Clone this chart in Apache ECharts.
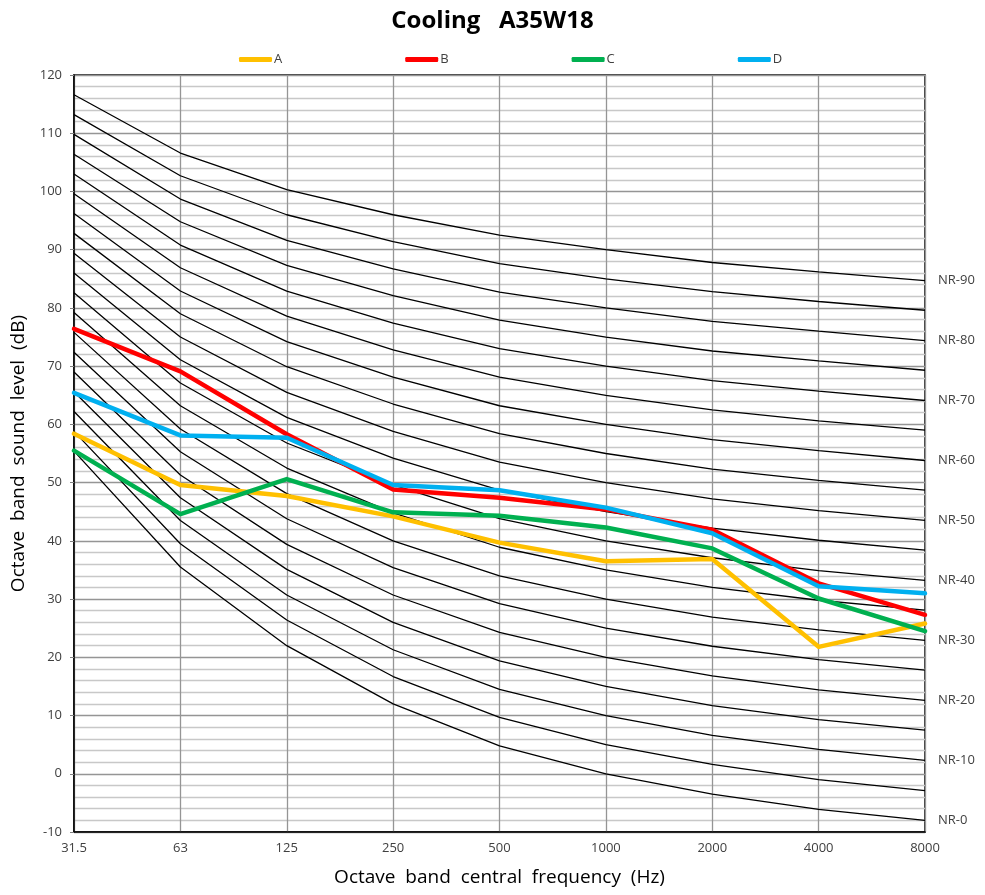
<!DOCTYPE html>
<html><head><meta charset="utf-8">
<script src="https://cdn.jsdelivr.net/npm/echarts@6/dist/echarts.min.js"></script>
<style>html,body{margin:0;padding:0;background:#fff}#c{width:985px;height:895px}</style>
</head><body><div id="c"></div>
<script>
const categories = ['31.5','63','125','250','500','1000','2000','4000','8000'];
const seriesA = [58.4, 49.6, 47.7, 44.2, 39.7, 36.5, 36.9, 21.8, 25.8];
const seriesB = [76.4, 69.1, 58.3, 48.8, 47.4, 45.4, 41.9, 32.7, 27.3];
const seriesC = [55.5, 44.6, 50.6, 44.9, 44.3, 42.3, 38.7, 30.1, 24.5];
const seriesD = [65.4, 58.1, 57.7, 49.6, 48.7, 45.7, 41.3, 32.2, 31.0];
const nrNames = ['NR-0','NR-5','NR-10','NR-15','NR-20','NR-25','NR-30','NR-35','NR-40','NR-45','NR-50','NR-55','NR-60','NR-65','NR-70','NR-75','NR-80','NR-85','NR-90'];
const nrCurves = [
  [55.4, 35.5, 22.0, 12.0, 4.8, 0, -3.5, -6.1, -8.0],
  [58.8, 39.5, 26.4, 16.7, 9.7, 5, 1.6, -1.0, -2.9],
  [62.2, 43.5, 30.7, 21.3, 14.5, 10, 6.6, 4.2, 2.3],
  [65.6, 47.4, 35.1, 26.0, 19.4, 15, 11.7, 9.3, 7.5],
  [69.0, 51.3, 39.4, 30.7, 24.3, 20, 16.8, 14.4, 12.6],
  [72.4, 55.3, 43.8, 35.4, 29.2, 25, 21.9, 19.6, 17.8],
  [75.8, 59.2, 48.1, 40.0, 34.0, 30, 26.9, 24.7, 22.9],
  [79.2, 63.2, 52.5, 44.8, 38.9, 35, 32.0, 29.8, 28.1],
  [82.6, 67.1, 56.8, 49.6, 43.8, 40, 37.1, 34.9, 33.2],
  [86.0, 71.1, 61.2, 54.2, 48.7, 45, 42.2, 40.1, 38.4],
  [89.4, 75.0, 65.5, 58.8, 53.5, 50, 47.2, 45.2, 43.5],
  [92.8, 79.0, 69.9, 63.5, 58.4, 55, 52.3, 50.4, 48.7],
  [96.2, 82.9, 74.2, 68.1, 63.2, 60, 57.4, 55.5, 53.8],
  [99.6, 86.9, 78.6, 72.8, 68.1, 65, 62.5, 60.6, 59.0],
  [103.0, 90.8, 82.9, 77.4, 73.0, 70, 67.5, 65.7, 64.1],
  [106.4, 94.8, 87.3, 82.1, 77.9, 75, 72.6, 70.9, 69.3],
  [109.8, 98.7, 91.6, 86.7, 82.7, 80, 77.7, 76.0, 74.4],
  [113.2, 102.7, 96.0, 91.4, 87.6, 85, 82.8, 81.1, 79.6],
  [116.6, 106.6, 100.3, 96.0, 92.5, 90, 87.8, 86.2, 84.7]
];
const labeledNR = ['NR-0','NR-10','NR-20','NR-30','NR-40','NR-50','NR-60','NR-70','NR-80','NR-90'];
const mainNames = ['A','B','C','D'];
const mainData = [seriesA, seriesB, seriesC, seriesD];
const mainColors = ['#FFC000','#FF0000','#00B050','#00B0F0'];

const FONT = '"Open Sans", "Noto Sans", sans-serif';
const series = [];
nrCurves.forEach((d, i) => {
  const name = nrNames[i];
  const lab = labeledNR.includes(name);
  series.push({
    name: name, type: 'line', data: d, symbol: 'none', silent: true, z: 2,
    lineStyle: { color: '#000', width: 1.3 },
    emphasis: { disabled: true },
    endLabel: lab ? { show: true, formatter: name, color: '#404040', fontSize: 13, fontFamily: FONT, distance: 13 } : { show: false }
  });
});
mainData.forEach((d, i) => {
  series.push({
    name: mainNames[i], type: 'line', data: d, symbol: 'none', z: 5,
    lineStyle: { color: mainColors[i], width: 4.5, cap: 'round', join: 'round' },
    itemStyle: { color: mainColors[i] },
    emphasis: { disabled: true }
  });
});

const chart = echarts.init(document.getElementById('c'), null, { renderer: 'canvas' });
chart.setOption({
  animation: false,
  backgroundColor: '#fff',
  title: { text: 'Cooling   A35W18', left: 'center', top: 4,
    textStyle: { fontSize: 24, fontWeight: 'bold', color: '#000', fontFamily: FONT } },
  legend: { data: mainNames, top: 48, left: 234, itemGap: 123, itemWidth: 33, itemHeight: 5, icon: 'roundRect',
    textStyle: { fontSize: 13, color: '#404040', fontFamily: FONT, padding: [0,0,0,-3] } },
  grid: { left: 74, right: 60, top: 75, bottom: 63, show: true, borderColor: '#000', borderWidth: 1.5, containLabel: false },
  xAxis: {
    type: 'category', data: categories, boundaryGap: false,
    name: 'Octave  band  central  frequency  (Hz)', nameLocation: 'middle', nameGap: 36,
    nameTextStyle: { fontSize: 19, color: '#000', fontFamily: FONT },
    axisLine: { show: true, onZero: false, lineStyle: { color: '#000', width: 1.5 } },
    axisTick: { show: false },
    axisLabel: { fontSize: 13, color: '#404040', fontFamily: FONT, margin: 10 },
    splitLine: { show: true, lineStyle: { color: '#959595', width: 1.3 } }
  },
  yAxis: {
    type: 'value', min: -10, max: 120, interval: 10,
    name: 'Octave  band  sound  level  (dB)', nameLocation: 'middle', nameGap: 46,
    nameTextStyle: { fontSize: 19, color: '#000', fontFamily: FONT },
    axisLine: { show: true, onZero: false, lineStyle: { color: '#000', width: 1.5 } },
    axisTick: { show: true, length: 4, lineStyle: { color: '#808080' } },
    axisLabel: { fontSize: 13, color: '#404040', fontFamily: FONT, margin: 12 },
    splitLine: { show: true, lineStyle: { color: '#959595', width: 1.3 } },
    minorTick: { show: false, splitNumber: 5 },
    minorSplitLine: { show: true, lineStyle: { color: '#c8c8c8', width: 1.3 } }
  },
  series: series
});
</script></body></html>
